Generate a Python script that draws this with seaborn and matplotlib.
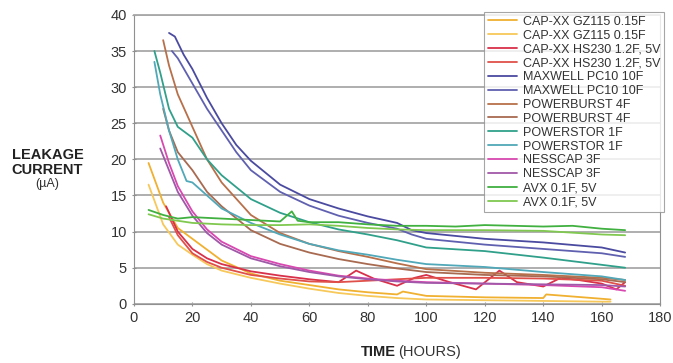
import numpy as np
import pandas as pd
import matplotlib
matplotlib.use("Agg")
import matplotlib.pyplot as plt
import seaborn as sns

# series labels (legend order) and colours
labels = ["CAP-XX GZ115 0.15F", "CAP-XX GZ115 0.15F",
          "CAP-XX HS230 1.2F, 5V", "CAP-XX HS230 1.2F, 5V",
          "MAXWELL PC10 10F", "MAXWELL PC10 10F",
          "POWERBURST 4F", "POWERBURST 4F",
          "POWERSTOR 1F", "POWERSTOR 1F",
          "NESSCAP 3F", "NESSCAP 3F",
          "AVX 0.1F, 5V", "AVX 0.1F, 5V"]
colors = ["#f0b030", "#f7c85a", "#d8304a", "#e0504a",
          "#4a4aa0", "#6060b0", "#b8704a", "#a86a50",
          "#30a08a", "#50a8b8", "#d848b0", "#a058a8",
          "#40b040", "#80c850"]

# hours / leakage current (uA)
gz_a_t = [5, 10, 15, 20, 25, 30, 40, 50, 60, 70, 80, 90, 92, 100, 120, 140, 141, 160, 163]
gz_a_y = [19.5, 14, 10.5, 9, 7.5, 6, 4.2, 3.2, 2.6, 2.0, 1.6, 1.3, 1.7, 1.1, 0.9, 0.8, 1.3, 0.7, 0.6]
gz_b_t = [5, 10, 15, 20, 25, 30, 40, 50, 60, 70, 80, 90, 100, 120, 140, 160, 163]
gz_b_y = [16.5, 11, 8.2, 6.8, 5.5, 4.6, 3.6, 2.8, 2.1, 1.5, 1.1, 0.8, 0.6, 0.5, 0.4, 0.3, 0.3]

hs_a_t = [11, 15, 20, 25, 30, 40, 50, 60, 70, 76, 82, 90, 96, 100, 108, 117, 125, 131, 140, 146, 152, 160, 165, 168]
hs_a_y = [13.5, 10, 7.6, 6.3, 5.5, 4.5, 3.9, 3.4, 3.0, 4.6, 3.5, 2.5, 3.6, 4.0, 3.0, 2.0, 4.6, 3.0, 2.4, 3.6, 3.3, 2.8, 2.0, 3.0]
hs_b_t = [12, 15, 20, 25, 30, 40, 50, 60, 70, 80, 90, 100, 120, 140, 160, 168]
hs_b_y = [12, 9.5, 7.0, 5.8, 5.0, 4.0, 3.5, 3.1, 3.0, 3.2, 3.4, 3.6, 3.6, 3.5, 3.2, 2.5]

mx_a_t = [12, 14, 17, 20, 25, 30, 35, 40, 50, 60, 70, 80, 90, 95, 100, 120, 140, 160, 168]
mx_a_y = [37.5, 37, 34.5, 32.5, 28.5, 25, 22, 19.8, 16.5, 14.5, 13.2, 12.1, 11.2, 10.2, 9.8, 9.0, 8.5, 7.8, 7.1]
mx_b_t = [13, 15, 20, 25, 30, 35, 40, 50, 60, 70, 80, 90, 95, 100, 120, 140, 160, 168]
mx_b_y = [35, 34, 30.5, 27, 24, 21, 18.5, 15.5, 13.6, 12.2, 11.2, 10.4, 9.6, 9.0, 8.2, 7.6, 7.0, 6.5]

pb_a_t = [10, 12, 15, 20, 25, 30, 40, 50, 60, 70, 80, 90, 100, 120, 140, 160, 168]
pb_a_y = [36.5, 33, 29, 24.5, 20, 16.8, 12.3, 9.8, 8.3, 7.3, 6.5, 5.6, 4.8, 4.3, 4.0, 3.6, 3.3]
pb_b_t = [10, 12, 15, 20, 25, 30, 40, 50, 60, 70, 80, 90, 100, 120, 140, 160, 168]
pb_b_y = [27, 24, 21, 18.5, 15.5, 13.5, 10.2, 8.3, 7.1, 6.2, 5.5, 4.9, 4.4, 4.0, 3.8, 3.4, 3.0]

ps_a_t = [7, 9, 12, 15, 20, 25, 30, 40, 50, 60, 70, 80, 90, 100, 120, 140, 160, 168]
ps_a_y = [35, 32, 27, 24.5, 23, 20, 17.8, 14.5, 12.6, 11.3, 10.3, 9.6, 8.8, 7.8, 7.3, 6.4, 5.4, 5.0]
ps_b_t = [7, 9, 12, 15, 18, 20, 25, 30, 40, 50, 60, 70, 80, 90, 100, 120, 140, 160, 168]
ps_b_y = [33.5, 29, 24, 20, 17, 16.8, 15, 13.2, 11.2, 9.6, 8.3, 7.4, 6.8, 6.1, 5.5, 5.1, 4.4, 3.8, 3.3]

ns_a_t = [9, 12, 15, 20, 25, 30, 40, 50, 60, 70, 80, 90, 100, 120, 140, 160, 168]
ns_a_y = [23.3, 19.5, 16.3, 12.8, 10.3, 8.6, 6.6, 5.5, 4.6, 3.9, 3.5, 3.2, 3.0, 2.8, 2.6, 2.3, 1.8]
ns_b_t = [9, 12, 15, 20, 25, 30, 40, 50, 60, 70, 80, 90, 100, 120, 140, 160, 168]
ns_b_y = [21.5, 18.5, 15.5, 12.2, 9.8, 8.2, 6.3, 5.2, 4.4, 3.8, 3.4, 3.1, 2.9, 2.8, 2.7, 2.6, 2.4]

avx_a_t = [5, 10, 15, 20, 30, 40, 50, 54, 56, 60, 70, 80, 90, 100, 110, 120, 140, 150, 160, 168]
avx_a_y = [13.0, 12.3, 11.8, 12.0, 11.8, 11.6, 11.4, 12.8, 11.5, 11.3, 11.3, 11.0, 10.8, 10.8, 10.7, 10.9, 10.7, 10.8, 10.4, 10.2]
avx_b_t = [5, 10, 15, 20, 30, 40, 50, 60, 70, 80, 90, 100, 120, 140, 160, 168]
avx_b_y = [12.4, 11.8, 11.5, 11.2, 11.0, 10.9, 10.9, 11.0, 10.8, 10.5, 10.3, 10.2, 10.2, 10.1, 9.6, 9.5]

series = [(gz_a_t, gz_a_y), (gz_b_t, gz_b_y), (hs_a_t, hs_a_y), (hs_b_t, hs_b_y),
          (mx_a_t, mx_a_y), (mx_b_t, mx_b_y), (pb_a_t, pb_a_y), (pb_b_t, pb_b_y),
          (ps_a_t, ps_a_y), (ps_b_t, ps_b_y), (ns_a_t, ns_a_y), (ns_b_t, ns_b_y),
          (avx_a_t, avx_a_y), (avx_b_t, avx_b_y)]

sns.set_style("white")
plt.rcParams['font.family'] = ['Liberation Sans', 'DejaVu Sans']

fig = plt.figure(figsize=(6.73, 3.63), dpi=100)
ax = fig.add_axes([0.199, 0.163, 0.782, 0.796])

for i, (t, y) in enumerate(series):
    df = pd.DataFrame({"hours": t, "current": y})
    sns.lineplot(data=df, x="hours", y="current", color=colors[i],
                 label=labels[i], linewidth=1.3, ax=ax)

ax.set_xlim(0, 180)
ax.set_ylim(0, 40)
ax.set_xticks(range(0, 181, 20))
ax.set_yticks(range(0, 41, 5))
ax.yaxis.grid(True, color="#a8a8a8", linewidth=1.3)
ax.set_axisbelow(True)
ax.spines["top"].set_color("#a8a8a8")
ax.spines["top"].set_linewidth(1.3)
for s in ["left", "bottom", "right"]:
    ax.spines[s].set_color("#909090")
ax.tick_params(axis="both", labelsize=10.5, colors="#909090", labelcolor="#333333",
               length=3, direction="inout", left=True, bottom=True)
ax.set_xlabel("")
ax.set_ylabel("")

leg = ax.legend(loc="upper right", bbox_to_anchor=(1.008, 1.01), fontsize=9,
                labelspacing=0.15, handlelength=2.3, handletextpad=0.5,
                borderpad=0.3, borderaxespad=0.0, frameon=True, fancybox=False)
leg.get_frame().set_edgecolor("#909090")
leg.get_frame().set_linewidth(0.8)
for t in leg.get_texts():
    t.set_color("#333333")

fig.text(0.0706, 0.573, "LEAKAGE", ha="center", va="center",
         fontsize=10.5, fontweight="bold", color="#222222")
fig.text(0.0706, 0.532, "CURRENT", ha="center", va="center",
         fontsize=10.5, fontweight="bold", color="#222222")
fig.text(0.0706, 0.493, "(\u00b5A)", ha="center", va="center", fontsize=9, color="#333333")
fig.text(0.588, 0.03, "TIME", ha="right", va="center", fontsize=10.5,
         fontweight="bold", color="#222222")
fig.text(0.591, 0.03, "(HOURS)", ha="left", va="center", fontsize=10.5, color="#333333")

fig.savefig("out.png", dpi=100)
